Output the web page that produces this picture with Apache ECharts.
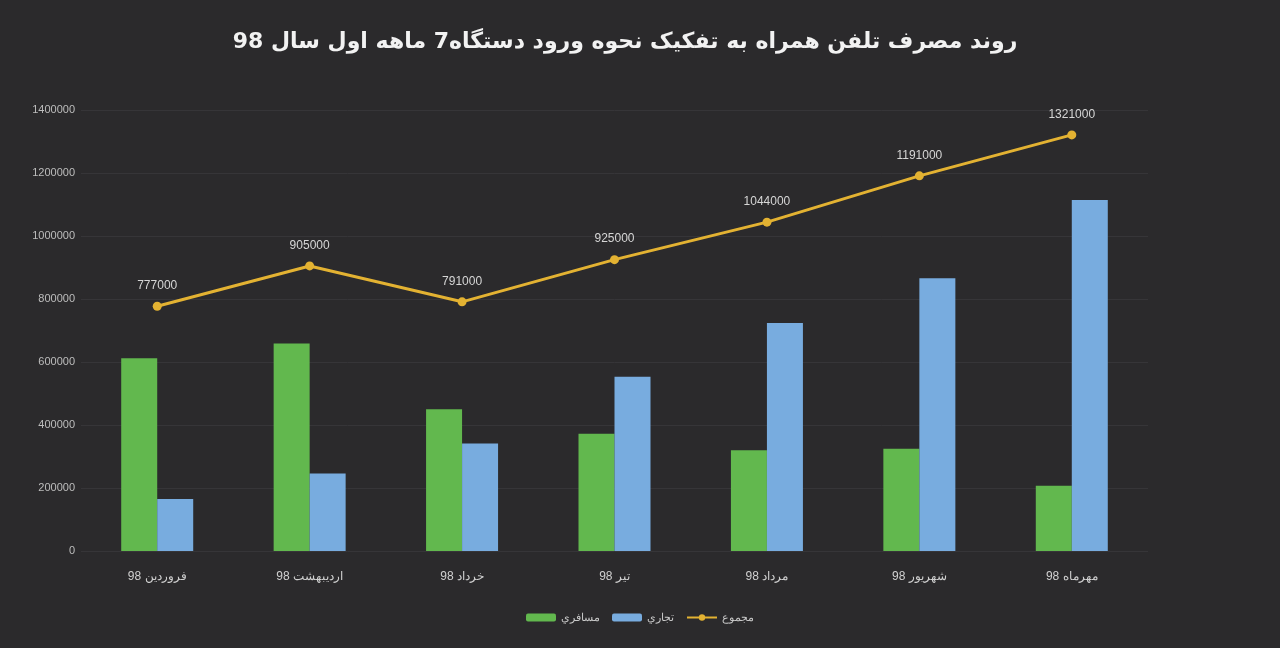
<!DOCTYPE html>
<html>
<head>
<meta charset="utf-8">
<script src="https://cdn.jsdelivr.net/npm/echarts@6/dist/echarts.min.js"></script>
<style>
html, body { margin: 0; padding: 0; background: #2b2a2c; }
#DataChart { width: 1280px; height: 648px; }
</style>
</head>
<body>
<div id="DataChart"></div>
<script>
// داده‌های نمودار
var months = ['فروردین 98', 'اردیبهشت 98', 'خرداد 98', 'تیر 98', 'مرداد 98', 'شهریور 98', 'مهرماه 98'];
var passenger = [612000, 659000, 450000, 372000, 320000, 325000, 207000];
var commercial = [165000, 246000, 341000, 553000, 724000, 866000, 1114000];
var total = [777000, 905000, 791000, 925000, 1044000, 1191000, 1321000];
var yTicks = [0, 200000, 400000, 600000, 800000, 1000000, 1200000, 1400000];

var myChart = echarts.init(document.getElementById('DataChart'));

var option = {
    backgroundColor: '#2b2a2c',
    title: {
        text: 'روند مصرف تلفن همراه به تفکیک نحوه ورود دستگاه7 ماهه اول سال 98',
        left: 620,
        top: 26,
        textAlign: 'center',
        textStyle: {
            fontFamily: 'DejaVu Sans',
            fontSize: 22,
            fontWeight: 'bold',
            color: '#f2f2f2'
        }
    },
    legend: {
        data: ['مسافري', 'تجاري', 'مجموع'],
        bottom: 20,
        left: 'center',
        itemWidth: 30,
        itemHeight: 8,
        itemGap: 12,
        textStyle: {
            color: '#c8c8c8',
            fontSize: 11
        }
    },
    grid: {
        left: 81,
        right: 132,
        top: 110,
        bottom: 97
    },
    xAxis: [
        {
            type: 'category',
            data: months,
            axisTick: { show: false },
            axisLine: { show: false },
            axisLabel: {
                color: '#d0d0d0',
                fontSize: 12,
                margin: 20
            }
        }
    ],
    yAxis: [
        {
            type: 'value',
            min: yTicks[0],
            max: yTicks[yTicks.length - 1],
            interval: 200000,
            axisLabel: {
                color: '#bdbdbd',
                fontSize: 11,
                margin: 6,
                formatter: function (v) { return String(v); }
            },
            axisTick: { show: false },
            axisLine: { show: false },
            splitLine: {
                lineStyle: { color: '#363538', width: 1 }
            }
        }
    ],
    series: [
        {
            name: 'مسافري',
            type: 'bar',
            data: passenger,
            barWidth: 36,
            barGap: '0%',
            itemStyle: { color: '#62b84e' }
        },
        {
            name: 'تجاري',
            type: 'bar',
            data: commercial,
            barWidth: 36,
            itemStyle: { color: '#78acdf' }
        },
        {
            name: 'مجموع',
            type: 'line',
            data: total,
            symbol: 'circle',
            symbolSize: 9,
            lineStyle: { color: '#e3b232', width: 3 },
            itemStyle: { color: '#e3b232' },
            label: {
                show: true,
                position: 'top',
                distance: 10,
                color: '#d6d6d6',
                fontSize: 12
            }
        }
    ]
};

myChart.setOption(option);
</script>
</body>
</html>
